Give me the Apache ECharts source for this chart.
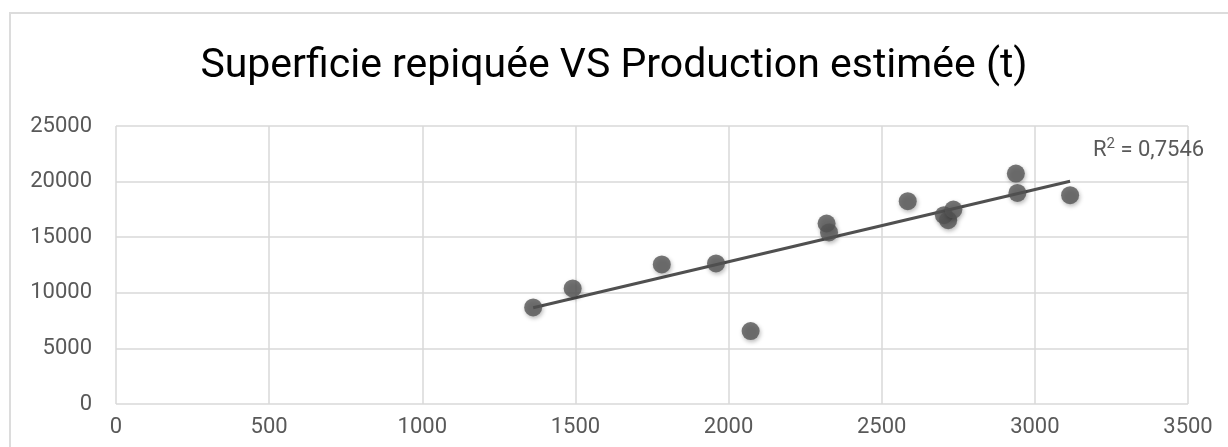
<!DOCTYPE html>
<html>
<head>
<meta charset="utf-8">
<script src="https://cdn.jsdelivr.net/npm/echarts@6/dist/echarts.min.js"></script>
<style>
html,body{margin:0;padding:0;background:#fff;}
#chart{width:1228px;height:447px;}
</style>
</head>
<body>
<div id="chart"></div>
<script>
// Data
var superficie = [1362, 1491, 1782, 1959, 2072, 2320, 2328, 2585, 2703, 2717, 2734, 2938, 2943, 3115];
var production = [8687, 10393, 12549, 12639, 6558, 16233, 15424, 18236, 16978, 16529, 17490, 20724, 18981, 18775];
// Linear trendline endpoints as drawn in the reference
var trendX = [1362, 3115];
var trendY = [8650, 20030];
var r2Label = "0,7546";
var titleText = "Superficie repiquée VS Production estimée (t)";

var points = superficie.map(function (x, i) { return [x, production[i]]; });
var trend = trendX.map(function (x, i) { return [x, trendY[i]]; });

var chart = echarts.init(document.getElementById('chart'));
var labelColor = '#595959';
var gridColor = '#d9d9d9';
function plain(v) { return String(v); }
chart.setOption({
  animation: false,
  backgroundColor: '#fff',
  title: {
    text: titleText,
    left: 'center',
    top: 41,
    textStyle: { fontFamily: 'Roboto', fontSize: 41, fontWeight: 'normal', color: '#000' }
  },
  graphic: [
    {
      type: 'rect',
      shape: { x: 10, y: 13, width: 1240, height: 500 },
      style: { fill: 'none', stroke: '#dcdcdc', lineWidth: 2 },
      z: -1
    },
    {
      type: 'text',
      left: 1093,
      top: 137,
      style: {
        text: '{b|R}{s|2}{b| = ' + r2Label + '}',
        rich: {
          b: { fontFamily: 'Roboto', fontSize: 22, fill: labelColor, verticalAlign: 'bottom' },
          s: { fontFamily: 'Roboto', fontSize: 15, fill: labelColor, verticalAlign: 'top', padding: [0, 0, 9, 0] }
        }
      },
      z: 10
    }
  ],
  grid: { left: 116, right: 40, top: 126, bottom: 43, containLabel: false },
  xAxis: {
    type: 'value',
    min: 0, max: 3500, interval: 500,
    axisLine: { show: false },
    axisTick: { show: false },
    splitLine: { show: true, lineStyle: { color: gridColor, width: 1.5 } },
    axisLabel: { color: labelColor, fontFamily: 'Roboto', fontSize: 22, margin: 12, showMaxLabel: true, formatter: plain }
  },
  yAxis: {
    type: 'value',
    min: 0, max: 25000, interval: 5000,
    axisLine: { show: false },
    axisTick: { show: false },
    splitLine: { show: true, lineStyle: { color: gridColor, width: 1.5 } },
    axisLabel: { color: labelColor, fontFamily: 'Roboto', fontSize: 22, margin: 24, formatter: plain }
  },
  series: [
    {
      type: 'line',
      data: trend,
      symbol: 'none',
      lineStyle: { color: '#505050', width: 3 },
      z: 2
    },
    {
      type: 'scatter',
      data: points,
      symbol: 'circle',
      symbolSize: 18,
      itemStyle: {
        color: '#555555',
        shadowColor: 'rgba(0,0,0,0.35)',
        shadowBlur: 4,
        shadowOffsetX: 1,
        shadowOffsetY: 2
      },
      z: 3
    }
  ]
});
</script>
</body>
</html>
